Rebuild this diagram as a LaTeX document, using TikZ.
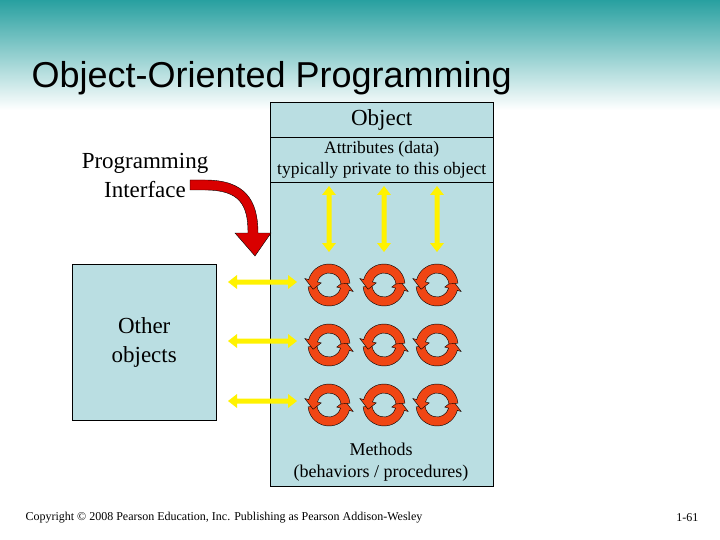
\documentclass[tikz,border=0pt]{standalone}
\usepackage{fontspec}
\setmainfont{Liberation Serif}
\newfontfamily\titlefont{Liberation Sans}
\usetikzlibrary{positioning,calc,arrows.meta}
\definecolor{objblue}{RGB}{186,222,226}
\definecolor{cycred}{RGB}{240,70,20}
\definecolor{topteal}{RGB}{40,160,160}
\newcommand{\cycsym}[2]{%
  \begin{scope}[shift={(#1,#2)}]
    \foreach \r in {0,180}{
      \filldraw[cycred,draw=black,thin,rotate=\r]
        (175:21) arc[start angle=175,end angle=15,radius=21] -- (15:25) -- (-15:16.5)
        -- (15:8) -- (15:12) arc[start angle=15,end angle=175,radius=12] -- cycle;
    }
  \end{scope}}
% double arrow, drawn along the x axis of a rotated scope
\newcommand{\dblarrow}[4]{%
  \begin{scope}[shift={(#1,#2)},rotate=#3]
    \fill[yellow] (0,0) -- (9,-7) -- (9,-2.5) -- (#4-9,-2.5) -- (#4-9,-7) -- (#4,0)
      -- (#4-9,7) -- (#4-9,2.5) -- (9,2.5) -- (9,7) -- cycle;
  \end{scope}}
\begin{document}
\begin{tikzpicture}[x=1pt,y=-1pt,
main node/.style={draw,fill=objblue,font=\fontsize{18}{20}\selectfont,inner sep=0pt}]
\useasboundingbox (0,0) rectangle (720,540);
% background
\shade[top color=topteal,bottom color=white] (0,0) rectangle (720,110);
\node[font=\titlefont\fontsize{36}{38}\selectfont,anchor=west] (title) at (28,78) {Object-Oriented Programming};
% object
\node[main node,minimum width=223pt,minimum height=384pt,anchor=north west] (obj) at (270,102) {};
\node[main node,minimum width=223pt,minimum height=35pt,anchor=north west,font=\fontsize{23}{25}\selectfont] (head) at (270,102) {Object};
\node[main node,minimum width=223pt,minimum height=45pt,anchor=north west,align=center,font=\fontsize{17.5}{21}\selectfont] (attr) at (270,137) {Attributes (data)\\typically private to this object};
\node[align=center,font=\fontsize{18}{22}\selectfont] (meth) at (381,462) {Methods\\(behaviors / procedures)};
\node[main node,minimum width=144pt,minimum height=156pt,anchor=north west,align=center,font=\fontsize{23}{29}\selectfont] (other) at (72,264) {Other\\objects};
\node[align=center,font=\fontsize{23}{29}\selectfont] (api) at (145,175) {Programming\\Interface};
% methods
\foreach \x in {329,384,437}{
  \foreach \y in {285,345,405}{\cycsym{\x}{\y}}
  \dblarrow{\x}{186}{-90}{66}
}
\foreach \y in {282,341,401}{
  \dblarrow{228}{\y}{0}{69}
}
% interface arrow
\coordinate (p1) at (255,256);
\filldraw[red!85!black,draw=black,thin]
  (190,180) -- (205,180) .. controls (245,180) and (258,200) .. (258,233) -- (271,233)
  -- (p1) -- (235,233) -- (248,233) .. controls (248,205) and (240,190) .. (205,190) -- (190,190) -- cycle;
% footer
\node[anchor=west,font=\fontsize{12}{14}\selectfont] (copy) at (22,518) {Copyright © 2008 Pearson Education, Inc. Publishing as Pearson Addison-Wesley};
\node[anchor=east,font=\fontsize{12}{14}\selectfont] (page) at (702,518) {1-61};
\end{tikzpicture}
\end{document}
